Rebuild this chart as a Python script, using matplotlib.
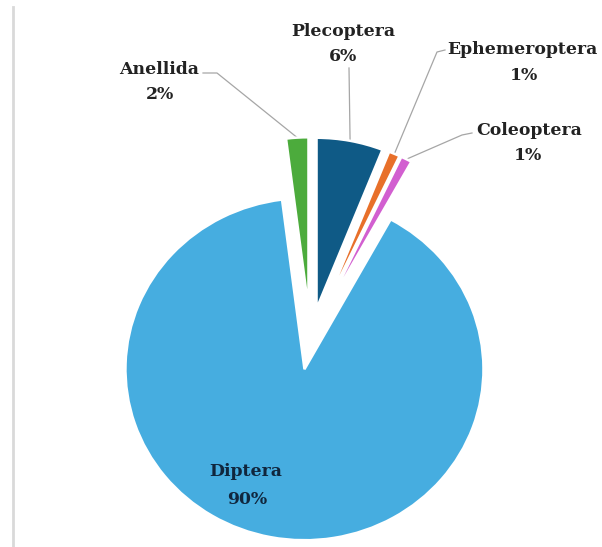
import matplotlib.pyplot as plt
import numpy as np

# data (clockwise from 12 o'clock)
taxa = ['Plecoptera', 'Ephemeroptera', 'Coleoptera', 'Diptera', 'Anellida']
shares = [6, 1, 1, 90, 2]
colors = ['#0f5a86', '#e8702a', '#d25fd0', '#46ade0', '#4cab3c']

W, H = 602, 547
rx, ry = 179, 171  # the pie in the picture is a bit wider than tall
yk = rx / ry


def px(x, y):
    # picture pixel (origin top-left) -> data coords
    return x, (H - y) * yk


fig = plt.figure(figsize=(W / 100, H / 100), dpi=100)
ax = fig.add_axes([0, 0, 1, 1])

center = px(310.5, 339)
# explode is in data units here, not a fraction
wedges, _ = ax.pie(shares, colors=colors, startangle=90, counterclock=False,
                   explode=[0.18 * rx] * len(shares), radius=rx, center=center,
                   wedgeprops=dict(edgecolor='white', linewidth=1.8))
ax.set_aspect('auto')
ax.set_xlim(0, W)
ax.set_ylim(0, H * yk)
ax.axis('off')

font = dict(family='DejaVu Serif', fontweight='bold', fontsize=12.4)
lc = '#a6a6a6'


def tip(w):
    # point on the outer arc at the middle of a wedge
    t = np.radians((w.theta1 + w.theta2) / 2)
    return w.center[0] + w.r * np.cos(t), w.center[1] + w.r * np.sin(t)


# label positions (picture pixels): name, percent, leader start/knee
labels = {
    'Plecoptera': ((343, 31), (343, 56), [(349, 68)]),
    'Ephemeroptera': ((522, 49), (524, 75), [(445, 50), (437, 52)]),
    'Coleoptera': ((529, 130), (528, 156), [(472, 133), (462, 135)]),
    'Anellida': ((159, 69), (160, 94), [(203, 73), (217, 73)]),
}

for w, name, val in zip(wedges, taxa, shares):
    if name == 'Diptera':
        ax.text(*px(246, 472), name, ha='center', va='center', color='#10263d', **font)
        ax.text(*px(247, 499), f'{val}%', ha='center', va='center', color='#10263d', **font)
        continue
    p_name, p_val, knees = labels[name]
    ax.text(*px(*p_name), name, ha='center', va='center', color='#222222', **font)
    ax.text(*px(*p_val), f'{val}%', ha='center', va='center', color='#222222', **font)
    pts = [px(*k) for k in knees] + [tip(w)]
    xs, ys = zip(*pts)
    ax.plot(xs, ys, color=lc, lw=0.9, zorder=0)

# thin grey frame line on the left side
ax.plot(*zip(px(13, 7), px(13, H)), color='#d9d9d9', lw=2)

plt.savefig('out.png', dpi=100)
